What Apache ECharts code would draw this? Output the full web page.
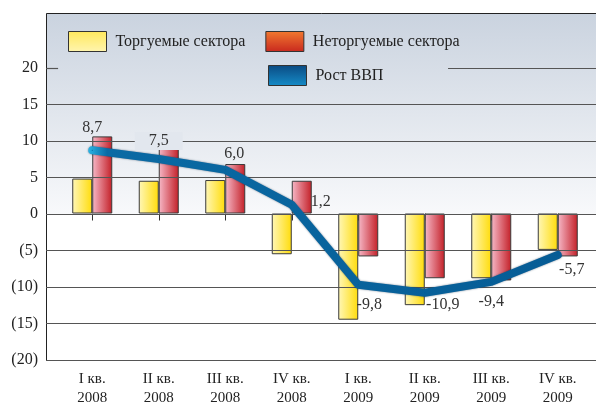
<!DOCTYPE html>
<html>
<head>
<meta charset="utf-8">
<script src="https://cdn.jsdelivr.net/npm/echarts@6/dist/echarts.min.js"></script>
<style>
  html, body { margin: 0; padding: 0; background: #fff; }
  #chart { width: 596px; height: 408px; }
</style>
</head>
<body>
<div id="chart"></div>
<script>
// quarters
const quarters = ['I кв.\n2008', 'II кв.\n2008', 'III кв.\n2008', 'IV кв.\n2008',
                  'I кв.\n2009', 'II кв.\n2009', 'III кв.\n2009', 'IV кв.\n2009'];
const tradable = [4.8, 4.5, 4.6, -5.6, -14.6, -12.6, -8.9, -5.0];
const nonTradable = [10.6, 9.3, 6.8, 4.5, -5.9, -8.9, -9.2, -5.9];
const gdpGrowth = [8.7, 7.5, 6.0, 1.2, -9.8, -10.9, -9.4, -5.7];
const yTicks = [-20, -15, -10, -5, 0, 5, 10, 15];
// where each gdp label sits relative to its point (px)
const labelShift = [[0, -22], [0, -18], [9, -16], [29, -3], [11, 20], [18, 12], [0, 20], [14, 15]];

const serif = 'Liberation Serif';
const chart = echarts.init(document.getElementById('chart'));

const yellowFill = new echarts.graphic.LinearGradient(0, 0, 1, 0, [
    { offset: 0, color: '#fff7b8' }, { offset: 1, color: '#ffdc0a' }]);
const redFill = new echarts.graphic.LinearGradient(0, 0, 1, 0, [
    { offset: 0, color: '#f6b9c8' }, { offset: 1, color: '#c31f27' }]);
const lineFill = new echarts.graphic.LinearGradient(0, 0, 1, 0, [
    { offset: 0, color: '#2ab4e4' }, { offset: 0.04, color: '#0a6aa4' }, { offset: 1, color: '#065c95' }]);

// the 20 line is hidden behind the legend block, only its ends show
const topLine = [
    [{ xAxis: 0, yAxis: 20 }, { xAxis: 0.022, yAxis: 20 }],
    [{ xAxis: 0.731, yAxis: 20 }, { xAxis: 1, yAxis: 20 }]
];

chart.setOption({
    animation: false,
    textStyle: { fontFamily: serif },
    graphic: [
        {
            type: 'rect', z: -10, silent: true,
            shape: { x: 46, y: 13, width: 550, height: 347 },
            style: {
                fill: new echarts.graphic.LinearGradient(0, 0, 0, 1, [
                    { offset: 0, color: '#cad3df' },
                    { offset: 0.58, color: '#f8f9fb' },
                    { offset: 0.581, color: '#ffffff' },
                    { offset: 1, color: '#ffffff' }])
            }
        },
        {
            type: 'polyline', z: 4, silent: true,
            shape: { points: [[46.5, 360], [46.5, 13.5], [596, 13.5]] },
            style: { stroke: '#222', lineWidth: 1, fill: null }
        }
    ],
    legend: [
        {
            data: [
                { name: 'Торгуемые сектора', itemStyle: { color: new echarts.graphic.LinearGradient(0, 0, 0, 1, [
                    { offset: 0, color: '#ffe85c' }, { offset: 1, color: '#fff5b0' }]), borderColor: '#333', borderWidth: 1 } },
                { name: 'Неторгуемые сектора', itemStyle: { color: new echarts.graphic.LinearGradient(0, 0, 0, 1, [
                    { offset: 0, color: '#f27a30' }, { offset: 1, color: '#c8281e' }]), borderColor: '#333', borderWidth: 1 } }
            ],
            left: 68, top: 31, padding: 0, z: 6,
            itemWidth: 38, itemHeight: 20, itemGap: 20,
            icon: 'rect',
            textStyle: { fontFamily: serif, fontSize: 16, color: '#222', padding: [0, 0, 0, 4] }
        },
        {
            data: [
                { name: 'Рост ВВП', icon: 'rect', itemStyle: { color: new echarts.graphic.LinearGradient(0, 0, 0, 1, [
                    { offset: 0, color: '#0a4a82' }, { offset: 1, color: '#168cc8' }]), borderColor: '#333', borderWidth: 1 } }
            ],
            left: 268, top: 65, padding: 0, z: 6,
            itemWidth: 38, itemHeight: 20,
            textStyle: { fontFamily: serif, fontSize: 16, color: '#222', padding: [0, 0, 0, 4] }
        }
    ],
    grid: [
        { left: 46, right: 0, top: 68, bottom: 48 },
        { left: 59, right: 5, top: 68, bottom: 48 }
    ],
    xAxis: [
        { type: 'value', gridIndex: 0, show: false, min: 0, max: 1 },
        {
            type: 'category', gridIndex: 1, data: quarters,
            axisLine: { show: false },
            axisTick: { show: true, alignWithLabel: true, length: 7, lineStyle: { color: '#333', width: 1 } },
            axisLabel: { fontFamily: serif, fontSize: 15, color: '#222', lineHeight: 19, margin: 11 }
        }
    ],
    yAxis: [
        {
            type: 'value', gridIndex: 0, min: -20, max: 20, interval: 5,
            axisLine: { show: false },
            axisTick: { show: false },
            axisLabel: {
                fontFamily: serif, fontSize: 16, color: '#222', margin: 8,
                formatter: v => v < 0 ? '(' + (-v) + ')' : String(v)
            },
            splitLine: { show: false }
        },
        { type: 'value', gridIndex: 1, min: -20, max: 20, interval: 5, show: false, splitLine: { show: false } }
    ],
    series: [
        {
            name: 'Торгуемые сектора', type: 'bar', xAxisIndex: 1, yAxisIndex: 1,
            data: tradable, barWidth: 20, barGap: '0%',
            itemStyle: { color: yellowFill, borderColor: '#3a3a3a', borderWidth: 1 }
        },
        {
            name: 'Неторгуемые сектора', type: 'bar', xAxisIndex: 1, yAxisIndex: 1,
            data: nonTradable, barWidth: 20, barGap: '0%',
            itemStyle: { color: redFill, borderColor: '#3a3a3a', borderWidth: 1 }
        },
        {
            // gridlines, drawn over the bars as in the original
            type: 'line', xAxisIndex: 0, yAxisIndex: 0, z: 3, data: [],
            markLine: {
                silent: true, symbol: 'none', animation: false,
                label: { show: false },
                lineStyle: { type: 'solid', color: '#555', width: 1.2 },
                data: yTicks.map(v => ({ yAxis: v })).concat(topLine)
            }
        },
        {
            name: 'Рост ВВП', type: 'line', xAxisIndex: 1, yAxisIndex: 1, z: 5,
            data: gdpGrowth.map((v, i) => ({
                value: v,
                label: {
                    offset: labelShift[i],
                    backgroundColor: i === 1 ? '#e2e7ee' : 'transparent',
                    padding: i === 1 ? [1, 14] : 0
                }
            })),
            symbol: 'circle', symbolSize: 1,
            itemStyle: { color: '#065c95' },
            lineStyle: { color: lineFill, width: 8, cap: 'round', join: 'round',
                         shadowColor: 'rgba(0,30,60,0.55)', shadowBlur: 2 },
            label: {
                show: true, position: 'inside',
                fontFamily: serif, fontSize: 16, color: '#333',
                formatter: p => p.value.toFixed(1).replace('.', ',')
            }
        }
    ]
});
</script>
</body>
</html>
